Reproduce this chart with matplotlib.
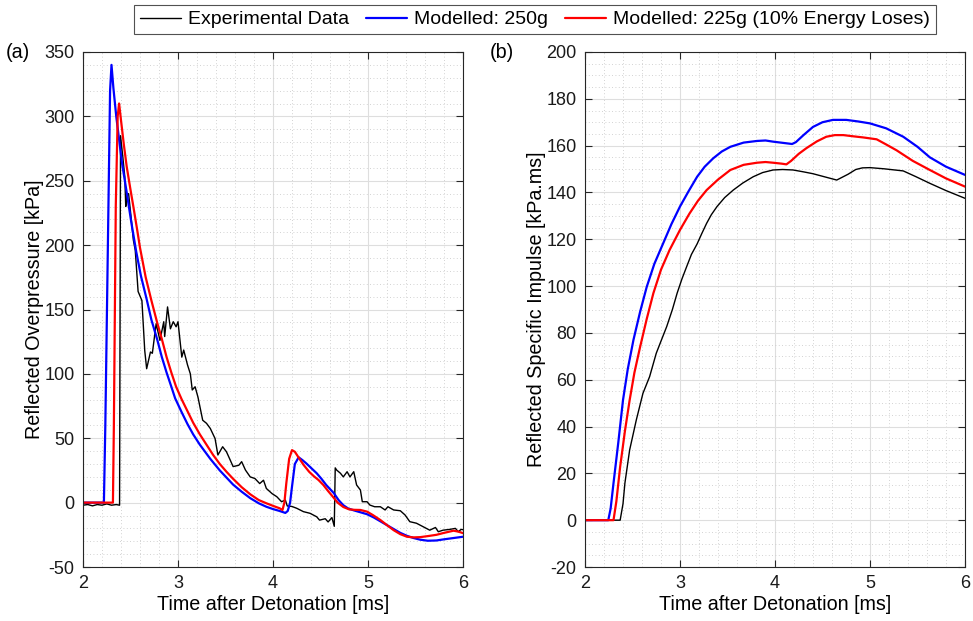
import matplotlib
matplotlib.use("Agg")
import matplotlib.pyplot as plt
from matplotlib.ticker import MultipleLocator

plt.rcParams['font.family'] = ['Liberation Sans', 'DejaVu Sans']
plt.rcParams['axes.unicode_minus'] = False

# ---------------- (a) reflected overpressure [kPa] ----------------
exp_p_t = [2.0, 2.05, 2.1, 2.15, 2.2, 2.25, 2.3, 2.35, 2.385, 2.395, 2.42, 2.44,
           2.45, 2.46, 2.48, 2.51, 2.53, 2.55, 2.58, 2.62, 2.65, 2.67, 2.71, 2.73,
           2.77, 2.81, 2.85, 2.86, 2.89, 2.92, 2.95, 2.98, 3.00, 3.04, 3.06, 3.10,
           3.13, 3.15, 3.18, 3.21, 3.26, 3.30, 3.34, 3.39, 3.42, 3.47, 3.51, 3.55,
           3.58, 3.64, 3.67, 3.71, 3.76, 3.81, 3.86, 3.90, 3.93, 3.99, 4.04, 4.09,
           4.13, 4.15, 4.20, 4.25, 4.32, 4.39, 4.46, 4.49, 4.55, 4.58, 4.62, 4.645,
           4.655, 4.67, 4.71, 4.74, 4.78, 4.81, 4.85, 4.88, 4.92, 4.94, 4.99, 5.02,
           5.07, 5.13, 5.18, 5.21, 5.27, 5.34, 5.39, 5.44, 5.51, 5.58, 5.65, 5.71,
           5.74, 5.79, 5.86, 5.92, 5.95, 5.98, 6.0]
exp_p = [-2, -1.5, -2.5, -1.5, -2, -1, -2, -1.5, -2, 285, 268, 253,
         230, 238, 240, 219, 204, 196, 164, 157, 118, 104, 117, 116,
         139, 126, 140.5, 129, 152, 135, 140.5, 136.6, 140.5, 113, 118.5, 107,
         100, 87.5, 90, 82, 64, 61.6, 57.6, 49.8, 37, 43.4, 39.5, 33,
         28, 29, 31.8, 25.3, 20, 18.7, 14.8, 17.4, 11, 7, 4.6, 0.7,
         2, -2.6, -3, -4.4, -7, -8.3, -11, -13.6, -12.5, -15, -11.6, -18.4,
         27, 25.3, 22.8, 20, 24, 20, 24, 13.7, 9.8, 0.7, 0.7, -1.9,
         -3.2, -3.2, -5.7, -3.2, -5.7, -6.3, -9.6, -14.8, -16, -18.7, -21.4, -19.3,
         -22.6, -21.4, -20.8, -20, -22.6, -20.8, -21]

m250_p_t = [2.0, 2.22, 2.235, 2.26, 2.285, 2.30, 2.32, 2.35, 2.38, 2.41, 2.46,
            2.51, 2.56, 2.61, 2.67, 2.72, 2.78, 2.83, 2.88, 2.93, 2.97, 3.04,
            3.10, 3.16, 3.23, 3.34, 3.44, 3.51, 3.58, 3.67, 3.76, 3.85, 3.93,
            4.0, 4.07, 4.13, 4.155, 4.18, 4.20, 4.23, 4.27, 4.31, 4.35, 4.40,
            4.46, 4.51, 4.56, 4.64, 4.69, 4.74, 4.79, 4.85, 4.92, 4.99, 5.06,
            5.13, 5.2, 5.27, 5.34, 5.41, 5.48, 5.55, 5.63, 5.72, 5.80, 5.90, 6.0]
m250_p = [0, 0, 60, 190, 320, 340, 322, 300, 282, 264, 241,
          217, 195, 176, 158, 142, 127, 113, 101, 90, 81, 70,
          61, 53, 45, 34, 25, 19.5, 14, 8.5, 3.5, -0.5, -3.2,
          -5, -6.5, -8, -6.5, 0, 12.4, 30, 35.2, 33, 30.5, 27,
          22.8, 18.5, 13.7, 7.4, 2, -2, -4.5, -6, -7.5, -9, -11.5,
          -14.5, -17.5, -20.5, -23.5, -25.8, -27.5, -28.8, -29.6, -29.4, -28.5, -27.5, -26.5]

m225_p_t = [2.0, 2.315, 2.325, 2.345, 2.365, 2.38, 2.40, 2.43, 2.46, 2.50,
            2.53, 2.57, 2.60, 2.66, 2.72, 2.78, 2.83, 2.88, 2.93, 2.98, 3.04,
            3.10, 3.16, 3.23, 3.30, 3.37, 3.44, 3.51, 3.58, 3.67, 3.76, 3.85,
            3.93, 4.0, 4.07, 4.10, 4.12, 4.14, 4.17, 4.20, 4.23, 4.27, 4.32,
            4.38, 4.43, 4.48, 4.53, 4.58, 4.63, 4.68, 4.74, 4.80, 4.86, 4.92,
            4.99, 5.05, 5.13, 5.2, 5.27, 5.34, 5.41, 5.48, 5.55, 5.63, 5.72,
            5.80, 5.90, 5.95, 6.0]
m225_p = [0, 0, 60, 230, 300, 310, 297, 278, 261, 243,
          230, 212, 198, 175, 157, 140, 127, 113, 101, 90, 80,
          71, 62, 53, 45, 37, 30, 24, 18.5, 12, 6.5, 2,
          -0.5, -2.5, -4.4, -5.7, 0, 15, 34, 40.8, 39.5, 35, 29.5,
          24, 20.5, 17.5, 13.7, 9, 4.6, 0, -3.4, -5.2, -5.6, -5.7,
          -7, -9.6, -13.5, -17.5, -21.4, -24.5, -26.5, -27, -26.8, -26, -25,
          -23.5, -21.8, -22.5, -23.7]

# ---------------- (b) reflected specific impulse [kPa.ms] ----------------
exp_i_t = [2.0, 2.37, 2.40, 2.42, 2.47, 2.54, 2.61, 2.68, 2.75, 2.80, 2.86,
           2.92, 2.97, 3.02, 3.07, 3.12, 3.18, 3.23, 3.28, 3.33, 3.39, 3.47,
           3.56, 3.66, 3.77, 3.87, 3.98, 4.08, 4.19, 4.30, 4.40, 4.52, 4.65,
           4.77, 4.85, 4.92, 5.0, 5.15, 5.35, 5.48, 5.63, 5.8, 6.0]
exp_i = [0, 0, 7, 15.8, 30, 42.8, 54.2, 61.3, 71.3, 76.5, 82.7,
         90, 97, 103, 108.3, 113.5, 118, 122.5, 126.8, 130.5, 134, 137.8,
         141, 144, 146.7, 148.5, 149.6, 149.8, 149.6, 148.8, 148, 146.7, 145.3,
         147.8, 149.8, 150.5, 150.6, 150.1, 149.2, 146.8, 143.9, 140.8, 137.5]

m250_i_t = [2.0, 2.245, 2.27, 2.30, 2.35, 2.40, 2.45, 2.51, 2.58, 2.65, 2.73,
            2.82, 2.91, 3.0, 3.09, 3.18, 3.26, 3.35, 3.44, 3.53, 3.67, 3.81,
            3.90, 3.98, 4.08, 4.18, 4.22, 4.30, 4.40, 4.50, 4.61, 4.75, 4.88,
            5.0, 5.17, 5.35, 5.5, 5.63, 5.8, 6.0]
m250_i = [0, 0, 5, 15.8, 33, 51.3, 64.5, 77, 89, 99.7, 109.5,
          118, 126.5, 134, 140.5, 146.7, 151, 154.6, 157.5, 159.5, 161.3, 162,
          162.2, 161.7, 161.2, 160.7, 161.5, 164.5, 168, 170, 171, 171, 170.3,
          169.5, 167.4, 163.8, 159.5, 155, 151, 147.5]

m225_i_t = [2.0, 2.30, 2.33, 2.37, 2.42, 2.47, 2.52, 2.58, 2.65, 2.72, 2.80,
            2.89, 3.0, 3.1, 3.19, 3.28, 3.4, 3.53, 3.67, 3.81, 3.9, 3.98,
            4.07, 4.12, 4.17, 4.25, 4.33, 4.44, 4.54, 4.63, 4.72, 4.82, 4.93,
            5.07, 5.17, 5.28, 5.45, 5.63, 5.8, 6.0]
m225_i = [0, 0, 8, 22.8, 38, 51.3, 63, 74, 86, 97, 107,
          115.4, 124, 131, 136.5, 141, 145.5, 149.6, 151.8, 152.7, 153, 152.7,
          152.3, 152, 153.5, 156.5, 158.9, 161.8, 163.8, 164.5, 164.5, 164, 163.5,
          162.7, 160.5, 158, 153.5, 149.6, 146, 142.5]

series_labels = ['Experimental Data', 'Modelled: 250g',
                 'Modelled: 225g (10% Energy Loses)']

FS_TICK = 13
FS_LABEL = 14.2
FS_LEG = 14
AXC = '#262626'

fig = plt.figure(figsize=(9.73, 6.21), dpi=100)
W, H = 973.0, 621.0
ax1 = fig.add_axes([83 / W, 54 / H, 380 / W, 515 / H])
ax2 = fig.add_axes([585 / W, 54 / H, 380 / W, 515 / H])


def style(ax, ymin, ymax, ymaj, ymin_step):
    ax.set_xlim(2, 6)
    ax.set_ylim(ymin, ymax)
    ax.xaxis.set_major_locator(MultipleLocator(1))
    ax.xaxis.set_minor_locator(MultipleLocator(0.2))
    ax.yaxis.set_major_locator(MultipleLocator(ymaj))
    ax.yaxis.set_minor_locator(MultipleLocator(ymin_step))
    ax.tick_params(which='major', direction='in', top=True, right=True,
                   length=5, width=0.8, color=AXC, labelsize=FS_TICK,
                   labelcolor='#1a1a1a', pad=6)
    ax.tick_params(which='minor', length=0)
    ax.grid(which='major', color='#dedede', lw=0.8)
    ax.grid(which='minor', color='#c4c4c4', lw=0.6, ls=(0, (1, 3)))
    ax.set_axisbelow(True)
    for s in ax.spines.values():
        s.set_color(AXC)
        s.set_linewidth(0.8)
    ax.set_xlabel('Time after Detonation [ms]', fontsize=FS_LABEL, labelpad=2)


style(ax1, -50, 350, 50, 10)
style(ax2, -20, 200, 20, 5)

line_kw = dict(solid_joinstyle='round', solid_capstyle='round')
h0, = ax1.plot(exp_p_t, exp_p, color='black', lw=1.0, **line_kw)
h1, = ax1.plot(m250_p_t, m250_p, color='#0000ff', lw=1.6, **line_kw)
h2, = ax1.plot(m225_p_t, m225_p, color='#ff0000', lw=1.6, **line_kw)
ax1.set_ylabel('Reflected Overpressure [kPa]', fontsize=FS_LABEL, labelpad=0)

ax2.plot(exp_i_t, exp_i, color='black', lw=1.0, **line_kw)
ax2.plot(m250_i_t, m250_i, color='#0000ff', lw=1.6, **line_kw)
ax2.plot(m225_i_t, m225_i, color='#ff0000', lw=1.6, **line_kw)
ax2.set_ylabel('Reflected Specific Impulse [kPa.ms]', fontsize=FS_LABEL, labelpad=0)

fig.text(18 / W, 1 - 53 / H, '(a)', fontsize=FS_LABEL, ha='center', va='center')
fig.text(502 / W, 1 - 53 / H, '(b)', fontsize=FS_LABEL, ha='center', va='center')

leg = fig.legend([h0, h1, h2], series_labels, loc='upper center',
                 bbox_to_anchor=(535 / W, 1 - 5 / H), ncol=3, fontsize=FS_LEG,
                 frameon=True, fancybox=False, edgecolor=AXC,
                 handlelength=2.1, handletextpad=0.35, columnspacing=0.9,
                 borderpad=0.3, borderaxespad=0)
leg.get_frame().set_linewidth(0.8)

fig.savefig('out.png', dpi=100)
